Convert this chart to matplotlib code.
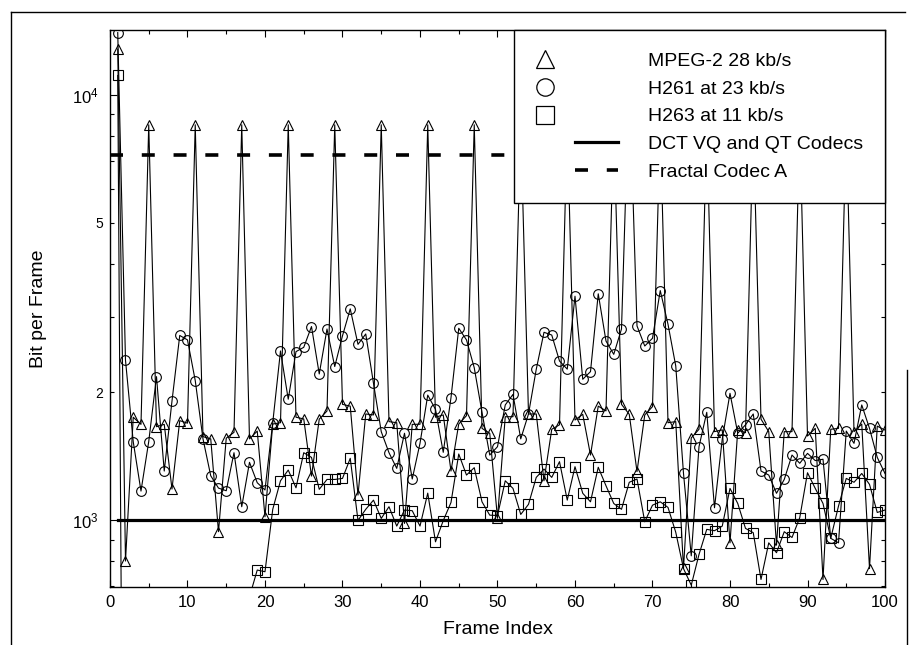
import numpy as np
import matplotlib.pyplot as plt
from matplotlib.lines import Line2D
from matplotlib.legend_handler import HandlerLine2D
from matplotlib.ticker import MultipleLocator, FixedLocator, LogLocator, FuncFormatter

plt.rcParams['font.family'] = ['Liberation Sans', 'DejaVu Sans']
plt.rcParams['mathtext.fontset'] = 'custom'
plt.rcParams['mathtext.rm'] = 'Liberation Sans'

frames = np.arange(1, 101)

# bits per frame, MPEG-2 at 28 kb/s (I-frame every 6th frame)
mpeg2 = [12800, 801, 1745, 1679, 8500, 1658, 1679, 1183, 1713, 1690,
         8500, 1571, 1552, 939, 1558, 1608, 8500, 1552, 1619, 1018,
         1682, 1694, 8500, 1745, 1729, 1269, 1727, 1805, 8500, 1871,
         1853, 1145, 1776, 1767, 8500, 1704, 1694, 982, 1679, 1680,
         8500, 1745, 1767, 1304, 1682, 1760, 8500, 1643, 1600, 1010,
         1750, 1750, 8500, 1776, 1776, 1237, 1635, 1675, 8500, 1719,
         1773, 1422, 1853, 1806, 8500, 1871, 1773, 1300, 1767, 1848,
         8500, 1694, 1704, 770, 1560, 1635, 8500, 1614, 1630, 884,
         1628, 1605, 8500, 1727, 1614, 873, 1614, 1614, 8500, 1576,
         1643, 725, 1635, 1643, 8500, 1614, 1682, 769, 1663, 1628]

# H261 at 23 kb/s
h261 = [14000, 2376, 1528, 1170, 1530, 2174, 1304, 1905, 2717, 2652,
        2128, 1552, 1271, 1189, 1172, 1440, 1075, 1367, 1224, 1177,
        1694, 2498, 1924, 2489, 2548, 2851, 2206, 2813, 2296, 2712,
        3137, 2589, 2739, 2097, 1614, 1440, 1323, 1600, 1249, 1515,
        1967, 1821, 1443, 1941, 2825, 2652, 2281, 1792, 1422, 1488,
        1865, 1975, 1552, 1776, 2262, 2764, 2723, 2366, 2264, 3360,
        2143, 2234, 3404, 2636, 2453, 2814, 11000, 2861, 2566, 2676,
        3464, 2887, 2303, 1287, 824, 1488, 1792, 1069, 1550, 1986,
        1600, 1675, 1776, 1304, 1276, 1156, 1246, 1422, 1360, 1435,
        1380, 1390, 906, 884, 1619, 1515, 1865, 1643, 1404, 1287]

# H263 at 11 kb/s (frames 3-17 fall below the plotted range)
nan = np.nan
h263 = [11100, 20, nan, nan, nan, nan, nan, nan, nan, nan,
        nan, nan, nan, nan, nan, nan, nan, 660, 763, 756,
        1060, 1237, 1311, 1191, 1440, 1404, 1181, 1246, 1246, 1253,
        1397, 998, 1060, 1114, 1009, 1075, 968, 1056, 1052, 968,
        1157, 889, 997, 1100, 1430, 1276, 1328, 1104, 1027, 1025,
        1237, 1187, 1031, 1089, 1260, 1318, 1260, 1372, 1114, 1335,
        1156, 1104, 1331, 1204, 1094, 1060, 1227, 1249, 991, 1084,
        1104, 1071, 936, 769, 703, 830, 951, 944, 968, 1187,
        1094, 956, 934, 725, 884, 838, 939, 910, 1013, 1292,
        1187, 1094, 906, 1079, 1253, 1227, 1287, 1213, 1042, 1056]

dct_x = [1, 100]
dct_y = [1000, 1000]
fractal_x = [0, 100]
fractal_y = [7200, 7200]

labels = ['MPEG-2 28 kb/s', 'H261 at 23 kb/s', 'H263 at 11 kb/s',
          'DCT VQ and QT Codecs', 'Fractal Codec A']

fig = plt.figure(figsize=(9.12, 6.45), dpi=100)
ax = fig.add_axes([0.1206, 0.0899, 0.8498, 0.8636])

dash = (0, (3.6, 5.2))
ax.plot(dct_x, dct_y, color='k', lw=2.3)
ax.plot(fractal_x, fractal_y, color='k', lw=2.6, ls=dash)

kw = dict(color='k', lw=0.8, ms=7, mfc='none', mew=0.8)
ax.plot(frames, mpeg2, marker='^', **kw)
ax.plot(frames, h261, marker='o', **kw)
ax.plot(frames, h263, marker='s', **kw)

ax.set_yscale('log')
ax.set_xlim(0, 100)
ax.set_ylim(696, 14200)

ax.xaxis.set_major_locator(MultipleLocator(10))
ax.xaxis.set_minor_locator(MultipleLocator(5))
ax.yaxis.set_major_locator(FixedLocator([1e3, 1e4]))
ax.yaxis.set_major_formatter(
    FuncFormatter(lambda v, p: r'$\mathregular{10^{%d}}$' % round(np.log10(v))))
ax.yaxis.set_minor_locator(LogLocator(base=10, subs=np.arange(2, 10)))
ax.yaxis.set_minor_formatter(
    FuncFormatter(lambda v, p: {2000: '2', 5000: '5'}.get(int(round(v)), '')))

ax.tick_params(which='both', direction='in', top=True, right=True, width=0.8)
ax.tick_params(which='major', length=5)
ax.tick_params(which='minor', length=3)
ax.tick_params(axis='x', which='both', labelsize=12, pad=6)
ax.tick_params(axis='y', which='major', labelsize=12, pad=8)
ax.tick_params(axis='y', which='minor', labelsize=10, pad=5)
for s in ax.spines.values():
    s.set_linewidth(1.0)

ax.set_xlabel('Frame Index', fontsize=14)
ax.xaxis.set_label_coords(0.5, -0.061)
ax.set_ylabel('Bit per Frame', fontsize=14)
ax.yaxis.set_label_coords(-0.081, 0.5)


class KeyHandler(HandlerLine2D):
    # draws the legend key over only part of the handle box
    def __init__(self, start, stop):
        super().__init__()
        self.start, self.stop = start, stop

    def get_xdata(self, legend, xdescent, ydescent, width, height, fontsize):
        x = [-xdescent + self.start * width, -xdescent + self.stop * width]
        return x, x


mk = dict(ls='none', ms=12.5, mfc='none', mec='k', mew=0.9)
proxies = [Line2D([], [], marker='^', **mk),
           Line2D([], [], marker='o', **mk),
           Line2D([], [], marker='s', **mk),
           Line2D([], [], color='k', lw=2.3),
           Line2D([], [], color='k', lw=2.6, ls=dash)]
marker_key = KeyHandler(0.0, 0.2)
line_key = KeyHandler(0.44, 0.93)
hmap = {p: marker_key for p in proxies[:3]}
hmap.update({p: line_key for p in proxies[3:]})

leg = ax.legend(proxies, labels, loc='upper right', bbox_to_anchor=(1, 1),
                borderaxespad=0, fontsize=14, handlelength=4.5,
                handletextpad=1.2, borderpad=1.15, labelspacing=0.52,
                numpoints=1, fancybox=False, framealpha=1, edgecolor='k',
                handler_map=hmap)
leg.get_frame().set_linewidth(1.0)

# outer frame around the figure
fig.add_artist(Line2D([11 / 912, 905 / 912], [1 - 12 / 645] * 2,
                      transform=fig.transFigure, color='k', lw=1))
fig.add_artist(Line2D([11 / 912] * 2, [1 - 12 / 645, 0],
                      transform=fig.transFigure, color='k', lw=1))
fig.add_artist(Line2D([907 / 912] * 2, [1 - 370 / 645, 0],
                      transform=fig.transFigure, color='k', lw=1))

fig.savefig('out.png', dpi=100)
